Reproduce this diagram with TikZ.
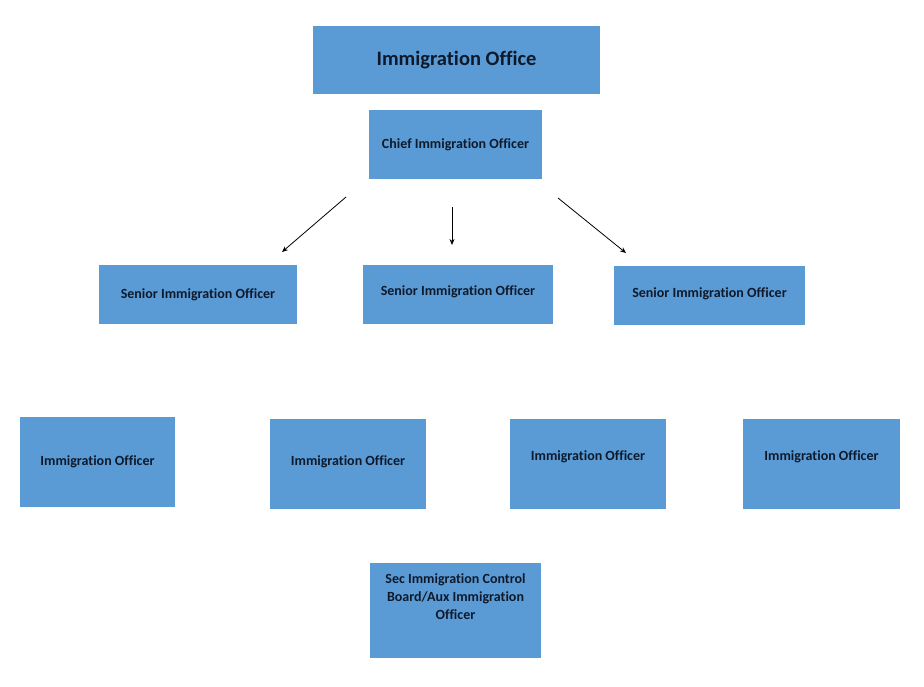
\documentclass[tikz,border=0pt]{standalone}
\usepackage{fontspec}
\setmainfont{Carlito}[Ligatures=NoCommon]
\usetikzlibrary{arrows.meta}
\definecolor{boxblue}{HTML}{5B9BD5}
\definecolor{boxtext}{HTML}{0E1A2B}
\begin{document}
\begin{tikzpicture}[x=1pt,y=-1pt,
		box/.style={fill=boxblue,draw=none,inner sep=0pt,text=boxtext,font=\bfseries\fontsize{14}{18}\selectfont,align=center},
		arr/.style={-{Stealth[length=6pt,width=5pt]},line width=0.8pt}]
		%frame
			\useasboundingbox (0,0) rectangle (924,686);
		%top boxes
			\node[box,minimum width=287pt,minimum height=68pt,font=\bfseries\fontsize{20.5}{24}\selectfont] (office) at (456.5,60) {Immigration Office};
			\node[box,minimum width=173pt,minimum height=69pt] (chief) at (455.5,144.5) {Chief Immigration Officer};
		%senior officers
			\node[box,minimum width=198pt,minimum height=59pt] (senior1) at (198,294.5) {Senior Immigration Officer};
			\node[box,minimum width=190pt,minimum height=59pt,text depth=7pt] (senior2) at (458,294.5) {Senior Immigration Officer};
			\node[box,minimum width=191pt,minimum height=59pt,text depth=6pt] (senior3) at (709.5,295.5) {Senior Immigration Officer};
		%officers
			\node[box,minimum width=155pt,minimum height=90pt] (officer1) at (97.5,462) {Immigration Officer};
			\node[box,minimum width=156pt,minimum height=90pt,text depth=6pt] (officer2) at (348,464) {Immigration Officer};
			\node[box,minimum width=156pt,minimum height=90pt,text depth=16pt] (officer3) at (588,464) {Immigration Officer};
			\node[box,minimum width=157pt,minimum height=90pt,text depth=16pt] (officer4) at (821.5,464) {Immigration Officer};
		%secretary
			\node[box,minimum width=171pt,minimum height=95pt,text depth=28pt] (sec) at (455.5,610.5) {Sec Immigration Control\\Board/Aux Immigration\\Officer};
		%arrows
			\coordinate (leftstart) at (346,197);
			\coordinate (leftend) at (282,252);
			\coordinate (midstart) at (452,207);
			\coordinate (midend) at (452,245);
			\coordinate (rightstart) at (558,198);
			\coordinate (rightend) at (626,253);
			\draw [arr] (leftstart) -- (leftend);
			\draw [arr] (midstart) -- (midend);
			\draw [arr] (rightstart) -- (rightend);
	\end{tikzpicture}
\end{document}
